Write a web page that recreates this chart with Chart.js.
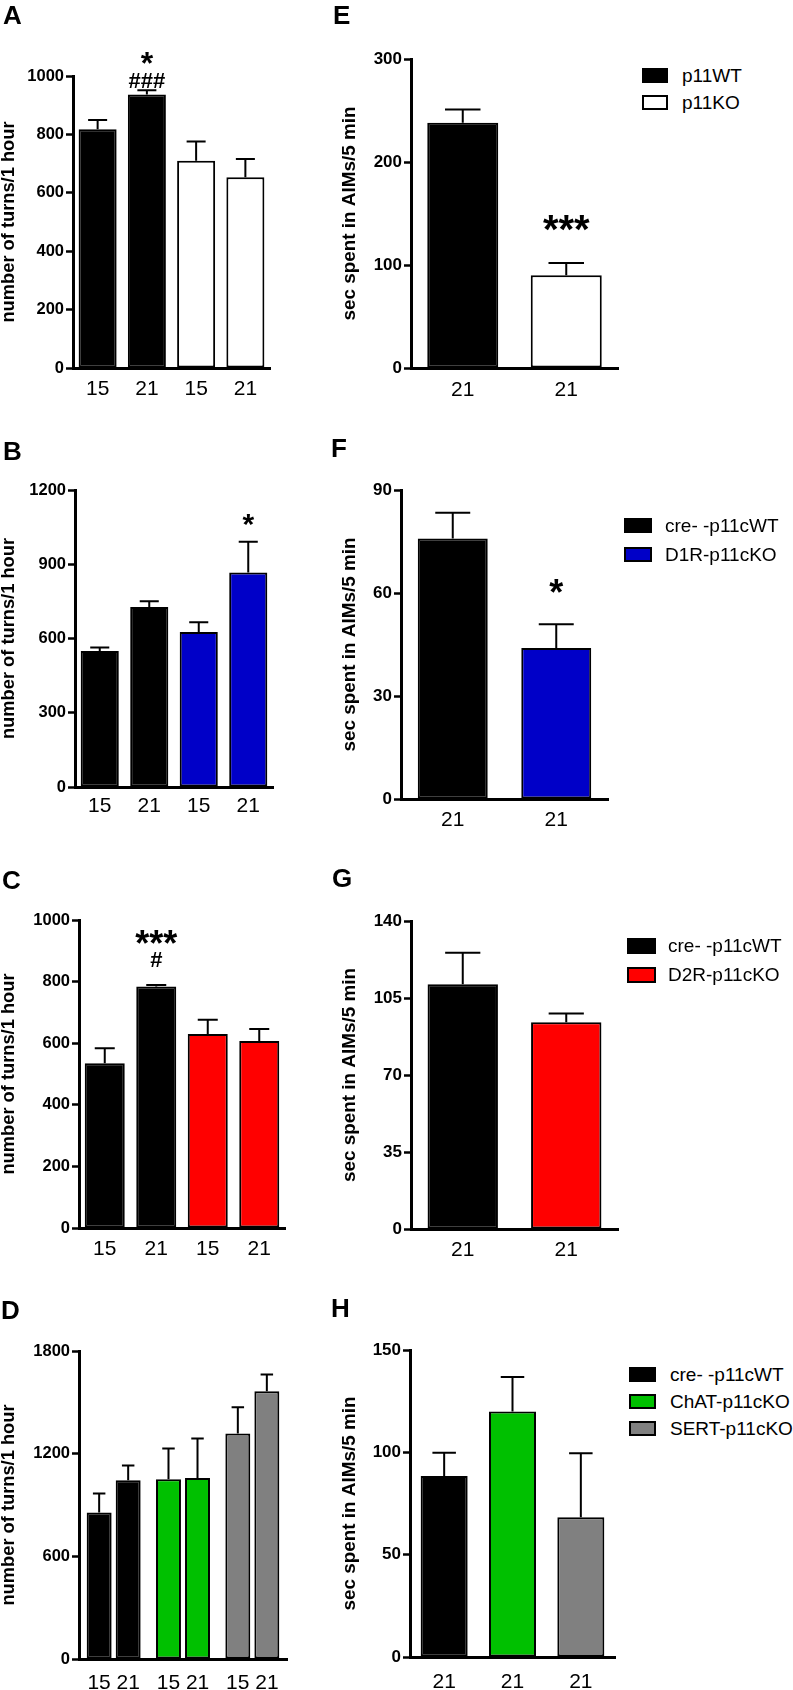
<!DOCTYPE html>
<html><head><meta charset="utf-8">
<script src="https://cdn.jsdelivr.net/npm/chart.js@4.4.1/dist/chart.umd.min.js"></script>
<style>
html,body{margin:0;padding:0;background:#fff;width:793px;height:1690px;overflow:hidden;position:relative;}
canvas{position:absolute;}
.pl{position:absolute;font-family:"Liberation Sans",Arial,sans-serif;font-weight:bold;font-size:26px;line-height:26px;color:#000;}
.lgb{position:absolute;border:2px solid #000;box-sizing:border-box;}
.lgt{position:absolute;font-family:"Liberation Sans",Arial,sans-serif;font-size:19px;line-height:20px;color:#000;white-space:nowrap;}
</style></head><body>
<script>
// ---------------- DATA ----------------
const catsA = ["15", "21", "15", "21"];
const valsA = [818, 937, 710, 653];
const errA  = [31, 14, 66, 63];
const annotA = [null, ["*", "###"], null, null];

const catsB = ["15", "21", "15", "21"];
const valsB = [550, 727, 626, 867];
const errB  = [14, 24, 40, 124];
const annotB = [null, null, null, ["*"]];

const catsC = ["15", "21", "15", "21"];
const valsC = [535, 784, 630, 607];
const errC  = [49, 5, 46, 39];
const annotC = [null, ["***", "#"], null, null];

const catsD = ["15 21", "15 21", "15 21"];
const day15D = [856, 1051, 1318];
const err15D = [111, 179, 153];
const day21D = [1045, 1058, 1565];
const err21D = [86, 230, 97];

const catsE = ["21", "21"];
const valsE = [238, 90];
const errE  = [13, 12];
const annotE = [null, ["***"]];

const catsF = ["21", "21"];
const valsF = [75.9, 44.0];
const errF  = [7.5, 6.9];
const annotF = [null, ["*"]];

const catsG = ["21", "21"];
const valsG = [111.2, 94.0];
const errG  = [14.4, 3.9];

const catsH = ["21", "21", "21"];
const valsH = [88.4, 120.0, 68.3];
const errH  = [11.4, 16.8, 31.2];

const legendE = ["p11WT", "p11KO"];
const legendF = ["cre- -p11cWT", "D1R-p11cKO"];
const legendG = ["cre- -p11cWT", "D2R-p11cKO"];
const legendH = ["cre- -p11cWT", "ChAT-p11cKO", "SERT-p11cKO"];

const yTitleTurns = "number of turns/1 hour";
const yTitleAims = "sec spent in AIMs/5 min";

// ---------------- STYLE ----------------
const FONT = '"Liberation Sans", Arial, sans-serif';
const BLACK = "#000000", WHITE = "#ffffff", BLUE = "#0000c8", RED = "#ff0000", GREEN = "#00c000", GREY = "#808080";
const colorsA = [BLACK, BLACK, WHITE, WHITE];
const colorsB = [BLACK, BLACK, BLUE, BLUE];
const colorsC = [BLACK, BLACK, RED, RED];
const colorsD = [BLACK, GREEN, GREY];
const colorsE = [BLACK, WHITE];
const colorsF = [BLACK, BLUE];
const colorsG = [BLACK, RED];
const colorsH = [BLACK, GREEN, GREY];

// ---------------- PLUGINS ----------------
const errPlugin = {
  id: 'errbars',
  afterDatasetsDraw(chart) {
    const ctx = chart.ctx, y = chart.scales.y;
    chart.data.datasets.forEach((ds, di) => {
      const meta = chart.getDatasetMeta(di);
      meta.data.forEach((bar, i) => {
        const v = ds.data[i], e = ds.errors[i];
        const p = bar.getProps(['x', 'width'], true);
        const yv = y.getPixelForValue(v), ye = y.getPixelForValue(v + e);
        ctx.save();
        ctx.strokeStyle = '#000'; ctx.lineWidth = 2;
        ctx.beginPath();
        ctx.moveTo(p.x, yv); ctx.lineTo(p.x, ye);
        ctx.moveTo(p.x - p.width / 4, ye); ctx.lineTo(p.x + p.width / 4, ye);
        ctx.stroke();
        ctx.restore();
      });
    });
  }
};

const annotPlugin = {
  id: 'annot',
  afterDatasetsDraw(chart, args, opts) {
    const ctx = chart.ctx, y = chart.scales.y;
    chart.data.datasets.forEach((ds, di) => {
      if (!ds.annot) return;
      const meta = chart.getDatasetMeta(di);
      meta.data.forEach((bar, i) => {
        const lines = ds.annot[i];
        if (!lines) return;
        const top = y.getPixelForValue(ds.data[i] + ds.errors[i]);
        let cy = top - opts.gap;
        for (let k = lines.length - 1; k >= 0; k--) {
          const t = lines[k];
          const size = t.indexOf('*') >= 0 ? opts.star : opts.hash;
          ctx.save();
          ctx.font = 'bold ' + size + 'px ' + FONT;
          ctx.fillStyle = '#000'; ctx.textAlign = 'center'; ctx.textBaseline = 'alphabetic';
          const m = ctx.measureText(t);
          const base = cy + (m.actualBoundingBoxAscent - m.actualBoundingBoxDescent) / 2;
          ctx.fillText(t, bar.x, base);
          ctx.restore();
          cy -= opts.step;
        }
      });
    });
  }
};

// ---------------- PANELS ----------------
function barSet(vals, errs, colors, annot, barPct, catPct, label) {
  return {
    label: label || '', data: vals, errors: errs, annot: annot,
    backgroundColor: colors, borderColor: '#000', borderWidth: 2, borderSkipped: false,
    barPercentage: barPct, categoryPercentage: catPct
  };
}

const panels = [
  {letter: 'A', lx: 3, ly: 1.5, left: 0, top: 0, width: 300, axisX: 73, right: 270, topY: 76, zeroY: 368, max: 1000, step: 200,
   title: yTitleTurns, titleX: 9.4, titleSize: 18.3, tickSize: 16.5, labelPad: 9, cats: catsA,
   datasets: [barSet(valsA, errA, colorsA, annotA, 0.772, 1)], annot: {gap: 10, step: 22, star: 32, hash: 22}},
  {letter: 'B', lx: 3, ly: 437.5, left: 0, top: 420, width: 300, axisX: 75, right: 273, topY: 490, zeroY: 787, max: 1200, step: 300,
   title: yTitleTurns, titleX: 9.4, titleSize: 18.3, tickSize: 16.5, labelPad: 6.5, cats: catsB,
   datasets: [barSet(valsB, errB, colorsB, annotB, 0.77, 1)], annot: {gap: 22, step: 22, star: 30, hash: 22}},
  {letter: 'C', lx: 2, ly: 866.5, left: 0, top: 840, width: 300, axisX: 79, right: 285, topY: 920, zeroY: 1228, max: 1000, step: 200,
   title: yTitleTurns, titleX: 9.4, titleSize: 18.3, tickSize: 16.5, labelPad: 9, cats: catsC,
   datasets: [barSet(valsC, errC, colorsC, annotC, 0.777, 1)], annot: {gap: 25, step: 23, star: 36, hash: 22}},
  {letter: 'D', lx: 1, ly: 1296.5, left: 0, top: 1270, width: 300, axisX: 79, right: 287, topY: 1351, zeroY: 1659, max: 1800, step: 600,
   title: yTitleTurns, titleX: 9.4, titleSize: 18.3, tickSize: 16.5, labelPad: 11.5, cats: catsD,
   datasets: [barSet(day15D, err15D, colorsD, null, 0.86, 0.837, '15'), barSet(day21D, err21D, colorsD, null, 0.86, 0.837, '21')],
   annot: {gap: 0, step: 0, star: 30, hash: 22}},
  {letter: 'E', lx: 333, ly: 1.5, left: 338, top: 0, width: 290, axisX: 411, right: 618, topY: 59, zeroY: 368, max: 300, step: 100,
   title: yTitleAims, titleX: 350, titleSize: 18.9, tickSize: 17, labelPad: 9.5, cats: catsE,
   datasets: [barSet(valsE, errE, colorsE, annotE, 0.686, 1)], annot: {gap: 40, step: 22, star: 40, hash: 22},
   legend: {items: legendE, colors: [BLACK, WHITE], bx: 642, by: 68, bw: 26, bh: 15, dy: 27, tx: 682}},
  {letter: 'F', lx: 331, ly: 434.5, left: 338, top: 420, width: 290, axisX: 401, right: 608, topY: 490, zeroY: 799, max: 90, step: 30,
   title: yTitleAims, titleX: 350, titleSize: 18.9, tickSize: 17, labelPad: 8.5, cats: catsF,
   datasets: [barSet(valsF, errF, colorsF, annotF, 0.676, 1)], annot: {gap: 38, step: 22, star: 36, hash: 22},
   legend: {items: legendF, colors: [BLACK, BLUE], bx: 624, by: 518, bw: 28, bh: 15, dy: 29, tx: 665}},
  {letter: 'G', lx: 332, ly: 865, left: 338, top: 840, width: 290, axisX: 411, right: 618, topY: 921, zeroY: 1229, max: 140, step: 35,
   title: yTitleAims, titleX: 350, titleSize: 18.9, tickSize: 17, labelPad: 8.5, cats: catsG,
   datasets: [barSet(valsG, errG, colorsG, null, 0.68, 1)], annot: {gap: 0, step: 0, star: 30, hash: 22},
   legend: {items: legendG, colors: [BLACK, RED], bx: 627, by: 938, bw: 29, bh: 16, dy: 29, tx: 668}},
  {letter: 'H', lx: 331, ly: 1294.5, left: 338, top: 1270, width: 290, axisX: 410, right: 615, topY: 1350, zeroY: 1657, max: 150, step: 50,
   title: yTitleAims, titleX: 350, titleSize: 18.9, tickSize: 17, labelPad: 12.5, cats: catsH,
   datasets: [barSet(valsH, errH, colorsH, null, 0.688, 1)], annot: {gap: 0, step: 0, star: 30, hash: 22},
   legend: {items: legendH, colors: [BLACK, GREEN, GREY], bx: 629, by: 1367, bw: 27, bh: 15, dy: 27, tx: 670}}
];

function addDiv(cls, text, x, y, extra) {
  const d = document.createElement('div');
  d.className = cls;
  if (text !== null) d.textContent = text;
  d.style.left = x + 'px'; d.style.top = y + 'px';
  if (extra) Object.assign(d.style, extra);
  document.body.appendChild(d);
  return d;
}

function makePanel(p) {
  const c = document.createElement('canvas');
  const H = p.zeroY - p.top + 40;
  c.width = p.width; c.height = H;
  c.style.left = p.left + 'px'; c.style.top = p.top + 'px';
  c.style.width = p.width + 'px'; c.style.height = H + 'px';
  document.body.appendChild(c);
  const yw = p.axisX - p.left;
  const tpad = Math.max(0, p.titleX - p.left - p.titleSize / 2);
  new Chart(c, {
    type: 'bar',
    data: {labels: p.cats, datasets: p.datasets},
    options: {
      responsive: false, animation: false, devicePixelRatio: 1,
      layout: {padding: {left: 0, top: p.topY - p.top, right: p.left + p.width - p.right, bottom: 0}},
      plugins: {legend: {display: false}, tooltip: {enabled: false}, annot: p.annot},
      scales: {
        x: {
          type: 'category', offset: true,
          grid: {display: false, drawTicks: false},
          border: {display: true, width: 3, color: '#000'},
          ticks: {color: '#000', font: {family: FONT, size: 21}, padding: p.labelPad, maxRotation: 0, autoSkip: false},
          afterFit(s) { s.height = 40; }
        },
        y: {
          type: 'linear', min: 0, max: p.max,
          grid: {display: true, drawOnChartArea: false, drawTicks: true, tickLength: 7, tickWidth: 2.5, tickColor: '#000', color: '#000'},
          border: {display: true, width: 3, color: '#000'},
          ticks: {stepSize: p.step, color: '#000', font: {family: FONT, size: p.tickSize, weight: 'bold'}, padding: 2,
                  callback: (v) => String(v)},
          title: {display: true, text: p.title, color: '#000',
                  font: {family: FONT, size: p.titleSize, weight: 'bold', lineHeight: 1},
                  padding: {top: tpad, bottom: 0}},
          afterFit(s) { s.width = yw; }
        }
      }
    },
    plugins: [errPlugin, annotPlugin]
  });
  addDiv('pl', p.letter, p.lx, p.ly);
  if (p.legend) {
    const L = p.legend;
    L.items.forEach((t, i) => {
      const by = L.by + i * L.dy;
      addDiv('lgb', null, L.bx, by, {width: L.bw + 'px', height: L.bh + 'px', background: L.colors[i]});
      addDiv('lgt', t, L.tx, by + L.bh / 2 - 10);
    });
  }
}

panels.forEach(makePanel);
</script>
</body></html>
